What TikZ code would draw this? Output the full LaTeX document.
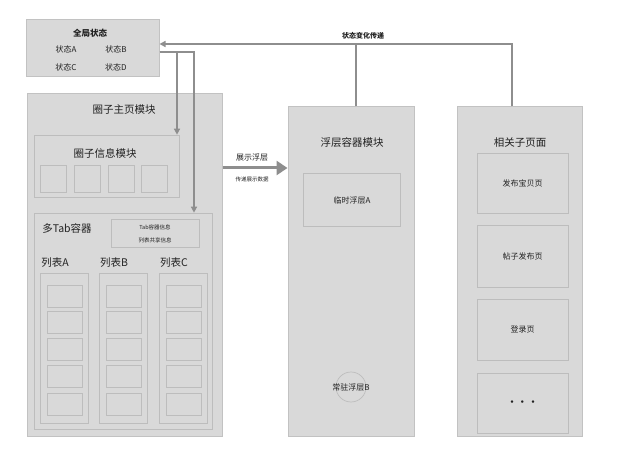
\documentclass[tikz,border=0pt]{standalone}
\usepackage{fontspec}
\setmainfont{Noto Sans CJK SC}
\usepackage{xcolor}
\usepackage{tikz}
\usetikzlibrary{arrows.meta}
\usetikzlibrary{calc}
\definecolor{panelfill}{HTML}{D9D9D9}
\definecolor{panelline}{HTML}{C2C2C2}
\definecolor{innerline}{HTML}{BDBDBD}
\definecolor{wire}{HTML}{8E8E8E}
\definecolor{ink}{HTML}{222222}
\tikzset{
  panel/.style={draw=panelline,fill=panelfill,line width=1pt,inner sep=0pt},
  cell/.style={draw=innerline,fill=panelfill,line width=0.7pt,inner sep=0pt},
  title/.style={text=ink,font=\fontsize{10.5}{12}\selectfont},
  small/.style={text=ink,font=\fontsize{8}{9}\selectfont},
  tiny/.style={text=ink,font=\fontsize{5.5}{6.5}\selectfont},
  wireline/.style={draw=wire,line width=1.6pt},
  wirearrow/.style={wireline,-{Triangle[width=6pt,length=6pt]}}
}
\begin{document}
\begin{tikzpicture}[x=1pt,y=-1pt]
        \useasboundingbox[fill=white] (0,0) rectangle (640,449);
        % global state
        \node[panel,minimum width=133pt,minimum height=57pt] (gs) at (92.5,48.5) {};
        \node[small,font=\bfseries\fontsize{8.5}{9}\selectfont] (gsT) at (90,33) {全局状态};
        \node[small] (sA) at (66,49) {状态A};
        \node[small] (sB) at (116,49) {状态B};
        \node[small] (sC) at (66,67) {状态C};
        \node[small] (sD) at (116,67) {状态D};

        % circle home module
        \node[panel,minimum width=195pt,minimum height=342pt] (home) at (124.5,265) {};
        \node[title] (homeT) at (124,110) {圈子主页模块};
        \node[cell,minimum width=145pt,minimum height=62pt] (info) at (106.5,166) {};
        \node[title] (infoT) at (105,153) {圈子信息模块};
        \foreach \x [count=\i] in {53,87,121,154.5}
            \node[cell,minimum width=26pt,minimum height=27pt] (sq\i) at (\x,178.5) {};
        \node[cell,minimum width=178pt,minimum height=216pt] (tabs) at (123,321) {};
        \node[title] (tabsT) at (67,228) {多Tab容器};
        \node[cell,minimum width=88pt,minimum height=28pt] (tabinfo) at (155,233) {};
        \node[tiny] (tabinfo1) at (155,227) {Tab容器信息};
        \node[tiny] (tabinfo2) at (155,240) {列表共享信息};
        \foreach \x/\l in {64/A,123/B,183/C}{
            \node[title] (list\l T) at (\x-9,263) {列表\l};
            \node[cell,minimum width=48pt,minimum height=150pt] (list\l) at (\x,348) {};
            \foreach \y [count=\j] in {296,322.5,349.5,376.5,404}
                \node[cell,minimum width=35pt,minimum height=22pt] (item\l\j) at (\x+0.5,\y) {};
        }

        % float container module
        \node[panel,minimum width=126pt,minimum height=329pt] (float) at (351,271.5) {};
        \node[title] (floatT) at (352,143) {浮层容器模块};
        \node[cell,minimum width=97pt,minimum height=53pt] (tmpA) at (351.5,199.5) {};
        \node[small] (tmpAT) at (352,200) {临时浮层A};
        \node[cell,circle,minimum size=30pt] (fixB) at (351,387) {};
        \node[small] (fixBT) at (351,387) {常驻浮层B};

        % related sub pages
        \node[panel,minimum width=125pt,minimum height=329pt] (rel) at (519.5,271.5) {};
        \node[title] (relT) at (520,143) {相关子页面};
        \node[cell,minimum width=91pt,minimum height=60pt] (pg1) at (522.5,183) {};
        \node[cell,minimum width=91pt,minimum height=62pt] (pg2) at (522.5,256) {};
        \node[cell,minimum width=91pt,minimum height=61pt] (pg3) at (522.5,329.5) {};
        \node[cell,minimum width=91pt,minimum height=60pt] (pg4) at (522.5,403) {};
        \node[small] at (pg1) {发布宝贝页};
        \node[small] at (pg2) {帖子发布页};
        \node[small] at (pg3) {登录页};
        \node[small,font=\bfseries\fontsize{9}{9}\selectfont] at (pg4) {·\,·\,·};

        % state change wires
        \coordinate (relTop) at (512,0 |- rel.north);
        \coordinate (floatTop) at (356,0 |- float.north);
        \coordinate (bus) at (512,44);
        \coordinate (gsIn) at (gs.east |- bus);
        \draw[wirearrow] (relTop) -- (bus) -- (gsIn);
        \draw[wireline] (floatTop) -- (floatTop |- bus);
        \node[small,font=\bfseries\fontsize{7}{8}\selectfont] (busT) at (363,36) {状态变化传递};

        \coordinate (gsOut) at (gs.east |- 0,52);
        \draw[wirearrow] (gsOut) -- (177,52) -- (177,0 |- info.north);
        \draw[wirearrow] (gsOut) -- (194,52) -- (194,0 |- tabs.north);

        % show float
        \coordinate (showL) at (home.east |- 0,168);
        \draw[draw=wire,line width=3pt,-{Triangle[width=14pt,length=11pt]}] (showL) -- (float.west |- showL);
        \node[small] (showT) at (252,157) {展示浮层};
        \node[tiny] (showT2) at (252,179) {传递展示数据};
\end{tikzpicture}
\end{document}
